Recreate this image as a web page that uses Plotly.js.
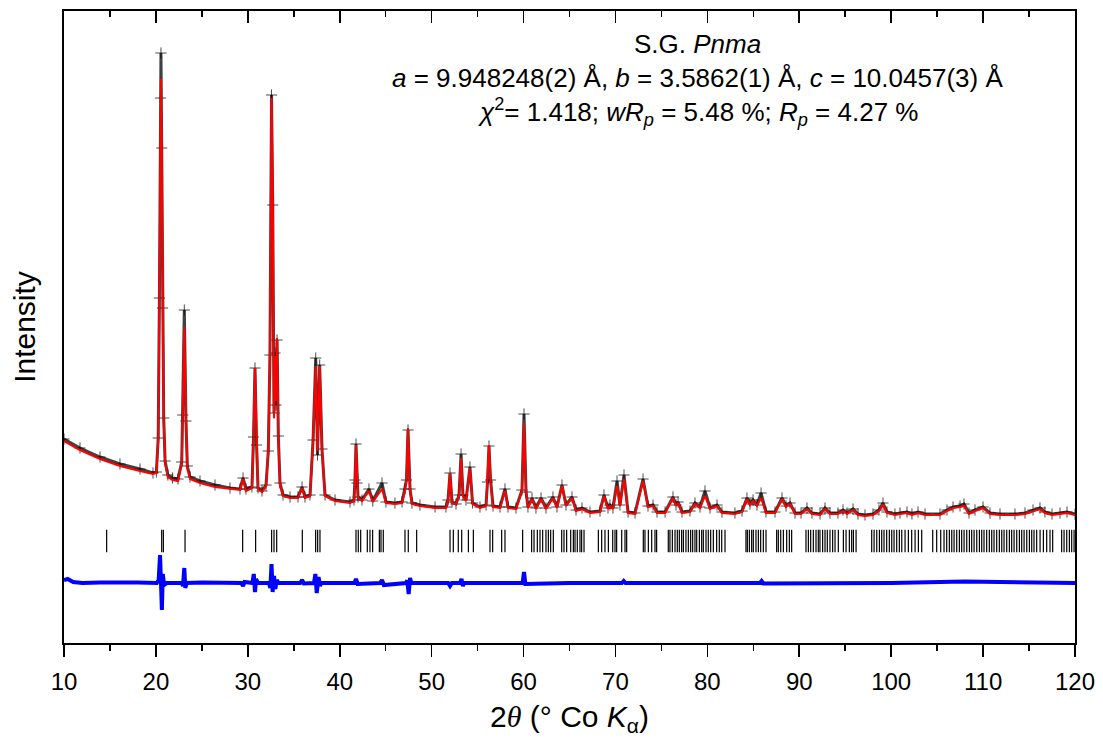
<!DOCTYPE html>
<html><head><meta charset="utf-8">
<script src="https://cdn.plot.ly/plotly-3.0.1.min.js"></script>
<style>html,body{margin:0;padding:0;background:#fff}#plot{width:1103px;height:748px}</style>
</head><body><div id="plot"></div><script>
// 2theta positions of the profile samples (deg, Co K-alpha)
const twoTheta = [10.00,11.74,13.92,16.09,18.27,19.68,20.05,20.25,20.38,20.50,20.55,20.63,20.72,20.85,21.00,21.30,21.80,22.40,22.81,22.92,23.09,23.27,23.42,23.71,24.80,26.43,28.06,29.15,29.48,29.80,30.45,30.62,30.78,30.95,31.11,31.54,31.98,32.23,32.41,32.58,32.71,32.85,32.96,33.07,33.18,33.32,33.50,33.83,34.59,35.46,35.90,36.22,36.77,37.10,37.39,37.58,37.82,38.07,38.40,39.49,41.12,41.55,41.66,41.77,41.88,41.99,42.42,43.18,43.60,44.60,45.03,46.01,46.78,47.10,47.26,47.43,47.65,47.86,48.73,50.37,51.56,51.78,52.00,52.22,52.65,52.98,53.20,53.41,53.74,54.17,54.45,55.26,55.92,56.08,56.24,56.41,56.68,57.44,57.98,58.31,59.18,59.83,60.05,60.27,60.48,60.92,61.35,61.90,62.44,63.20,63.64,64.18,64.62,65.27,65.71,66.36,67.23,68.32,68.75,69.19,69.40,69.73,70.17,70.49,70.93,71.37,72.13,73.00,73.54,74.09,74.52,75.40,76.26,76.59,76.81,77.24,78.11,78.65,79.20,79.74,80.29,81.05,81.59,83.00,83.77,84.31,84.64,84.97,85.40,85.84,86.38,87.36,88.12,88.56,88.99,89.54,90.19,90.84,91.38,92.26,92.80,93.34,94.21,94.76,95.19,95.85,96.39,97.15,98.02,98.67,99.11,99.54,100.41,100.96,101.72,102.26,102.92,103.68,105.31,106.07,106.73,107.49,107.92,108.47,109.12,109.99,110.75,111.84,113.47,114.56,115.43,116.19,116.73,117.50,118.37,119.13,120.00];
// calculated intensity (arb. units)
const yCalc = [4040,3860,3680,3540,3440,3380,3400,4040,6840,10840,11280,9840,6840,4440,3600,3320,3260,3240,3580,4500,6320,4500,3500,3280,3200,3120,3080,3060,3280,3040,3100,4040,5500,4040,3080,3020,3140,3840,5840,10900,8840,4500,5740,4840,6100,4100,3180,2940,2900,2900,3100,2900,2940,4040,5540,3840,5540,3840,2940,2840,2800,2840,3240,3960,3240,2900,2840,3040,2820,3080,2800,2780,2800,3040,3240,4300,3040,2780,2740,2700,2700,2840,3400,2800,2780,2940,3700,2940,2840,3500,2780,2700,2740,3240,3960,3240,2720,2700,3040,2700,2680,3040,4400,3040,2700,2880,2680,2880,2680,2900,2700,3140,2740,2900,2640,2680,2600,2620,2940,2680,2740,2680,3140,2740,3280,2600,2580,3240,2720,2740,2600,2600,2900,2740,2800,2600,2620,2780,2700,2940,2680,2740,2600,2580,2620,2880,2760,2840,2740,2900,2600,2600,2880,2720,2780,2580,2580,2680,2580,2560,2680,2580,2580,2640,2580,2660,2560,2540,2560,2640,2760,2600,2560,2580,2600,2560,2600,2560,2560,2640,2700,2720,2740,2580,2640,2700,2580,2560,2560,2580,2640,2680,2600,2560,2580,2600,2560];
// observed intensity (arb. units)
const yObs = [4080,3900,3720,3580,3480,3400,3420,4100,6900,10900,11800,9900,6700,4500,3640,3360,3300,3280,3620,4560,6660,4440,3540,3320,3240,3160,3100,3080,3300,3080,3120,4120,5500,3960,3100,3040,3160,3840,5760,10960,8760,4600,5800,4760,6060,4140,3200,2960,2920,2920,3120,2920,2960,4060,5700,3760,5560,3880,2960,2860,2820,2860,3260,3980,3200,2920,2860,3080,2840,3200,2820,2800,2820,3080,3260,4260,3080,2800,2760,2720,2720,2860,3400,2820,2780,2960,3780,2960,2860,3520,2800,2720,2760,3220,3940,3260,2740,2720,3080,2720,2700,3060,4580,3020,2720,2900,2700,2900,2700,2920,2720,3160,2760,2920,2660,2700,2620,2640,2960,2700,2760,2700,3240,2760,3360,2620,2600,3280,2740,2760,2620,2620,2920,2760,2820,2620,2640,2800,2720,3040,2700,2760,2620,2600,2640,2900,2780,2860,2760,3000,2620,2620,2900,2740,2800,2600,2600,2700,2600,2580,2700,2600,2600,2660,2600,2680,2580,2560,2580,2660,2800,2620,2580,2600,2620,2580,2620,2580,2580,2660,2720,2740,2780,2600,2660,2720,2600,2580,2580,2600,2660,2700,2620,2580,2600,2620,2580];
// difference curve (offset, arb. units)
const diffX = [10.0,10.4,11.0,12.0,14.0,16.0,18.0,20.1,20.3,20.45,20.55,20.65,20.75,20.9,21.2,22.8,22.95,23.09,23.2,23.35,25.0,27.0,29.3,29.48,29.65,30.5,30.65,30.78,30.9,31.1,32.3,32.45,32.58,32.7,32.85,33.0,33.15,33.35,35.7,35.9,36.1,37.2,37.35,37.5,37.7,37.85,38.0,41.6,41.77,41.95,44.4,44.6,44.8,47.2,47.35,47.5,47.65,47.8,51.8,52.0,52.2,53.1,53.25,53.4,53.55,59.9,60.05,60.2,65.0,70.7,70.9,71.1,80.0,85.7,85.9,86.1,100.0,108.0,120.0];
const diffY = [1260,1280,1220,1200,1210,1200,1210,1200,1260,1760,1000,660,1380,1160,1200,1200,1140,1500,1100,1200,1210,1200,1200,1140,1220,1200,1380,1020,1280,1200,1200,1100,1580,1020,1340,1080,1260,1200,1200,1260,1190,1200,1380,1000,1320,1140,1200,1200,1280,1180,1200,1260,1160,1200,1250,980,1300,1200,1200,1140,1200,1200,1280,1140,1200,1200,1420,1180,1200,1200,1240,1200,1200,1200,1240,1190,1200,1230,1200];
// Bragg reflection positions (deg)
const braggPos = [14.64,20.63,20.81,23.17,29.44,30.85,32.59,32.85,33.14,35.93,37.38,37.6,37.85,41.77,42.02,42.28,43.0,43.29,43.58,44.31,44.49,44.74,47.1,47.46,48.37,52.0,52.36,52.9,53.27,54.0,54.54,56.35,56.64,57.62,57.98,59.9,60.88,61.14,61.5,61.79,62.08,62.44,62.7,62.95,63.24,64.15,64.4,64.69,65.13,65.42,65.6,65.85,66.14,66.32,66.58,68.14,68.5,68.86,69.23,69.7,69.95,70.13,70.68,71.04,71.22,73.03,73.21,73.58,73.94,74.3,74.48,75.75,75.93,76.19,76.48,76.73,76.95,77.2,77.39,77.67,77.93,78.18,78.4,78.65,78.84,79.13,79.38,79.56,79.85,80.1,80.36,80.65,81.01,81.3,81.56,81.92,84.2,84.35,84.57,84.82,85.0,85.29,85.55,85.8,86.09,86.38,87.54,87.72,87.98,88.27,88.63,88.92,89.17,90.73,90.99,91.24,91.53,91.82,92.07,92.25,92.54,92.8,93.05,93.34,93.63,93.89,94.25,94.8,95.09,95.45,95.7,95.89,96.18,97.88,98.14,98.43,98.72,98.97,99.22,99.51,99.8,100.06,100.31,100.6,100.89,101.15,101.51,101.87,102.23,102.6,102.96,103.32,104.52,104.95,105.39,105.75,106.04,106.33,106.59,106.84,107.13,107.42,107.67,107.93,108.22,108.51,108.76,109.02,109.31,109.6,109.85,110.1,110.39,110.68,110.94,111.19,111.48,111.77,112.03,112.28,112.57,112.86,113.11,113.37,113.66,113.95,114.2,114.46,114.75,115.04,115.29,115.54,115.83,116.2,116.56,116.92,117.28,117.57,118.55,118.81,119.1,119.39,119.64,119.9];
const xTicks = [10,20,30,40,50,60,70,80,90,100,110,120];
const annotationLines = [
  'S.G. <i>Pnma</i>',
  '<i>a</i> = 9.948248(2) Å, <i>b</i> = 3.5862(1) Å, <i>c</i> = 10.0457(3) Å',
  '<i>χ</i><sup>2</sup>= 1.418; <i>wR<sub>p</sub></i> = 5.48 %; <i>R<sub>p</sub></i> = 4.27 %'
];

const BRAGG_LEVEL = 2040;
const FONT = 'Arial, "Liberation Sans", sans-serif';

const traces = [
  {x: twoTheta, y: yObs, type: 'scatter', mode: 'lines+markers', name: 'Observed',
   line: {color: 'rgba(0,0,0,0.75)', width: 3},
   marker: {symbol: 'cross-thin', size: 8, color: 'black', line: {color: 'rgba(0,0,0,0.7)', width: 1}}},
  {x: twoTheta, y: yCalc, type: 'scatter', mode: 'lines', name: 'Calculated',
   line: {color: 'rgb(255,0,0)', width: 2}},
  {x: diffX, y: diffY, type: 'scatter', mode: 'lines', name: 'Difference',
   line: {color: 'rgb(0,0,255)', width: 4}},
  {x: braggPos, y: braggPos.map(() => BRAGG_LEVEL), type: 'scatter', mode: 'markers', name: 'Bragg',
   xaxis: 'x2', yaxis: 'y',
   marker: {symbol: 'line-ns', size: 16, color: 'black', line: {color: 'black', width: 1.2}}}
];

const annY = [0.947, 0.894, 0.840];
const layout = {
  width: 1103, height: 748,
  margin: {l: 64, r: 28, t: 11, b: 105, pad: 0},
  paper_bgcolor: 'white', plot_bgcolor: 'white',
  showlegend: false,
  font: {family: FONT, color: 'black'},
  xaxis: {
    range: [10, 120], tickvals: xTicks, ticktext: xTicks.map(String),
    ticks: 'outside', ticklen: 12, tickwidth: 1.6, tickcolor: 'black',
    showline: true, linewidth: 2, linecolor: 'black', mirror: true,
    showgrid: false, zeroline: false,
    tickfont: {size: 24, family: FONT, color: 'black'},
    ticklabelstandoff: 4,
    minor: {ticks: 'outside', dtick: 5, tick0: 5, ticklen: 6, tickwidth: 1.6, tickcolor: 'black', showgrid: false},
    title: {text: '2<span style="font-family:Liberation Serif"><i>θ</i></span> (° Co <i>K</i><sub>α</sub>)',
            font: {size: 30, family: FONT, color: 'black'}, standoff: 12}
  },
  xaxis2: {
    overlaying: 'x', side: 'top', range: [10, 120], tickvals: xTicks,
    ticks: 'inside', ticklen: 12, tickwidth: 1.6, tickcolor: 'black',
    showticklabels: false, showgrid: false, zeroline: false, showline: false,
    minor: {ticks: 'inside', dtick: 5, tick0: 5, ticklen: 6, tickwidth: 1.6, tickcolor: 'black', showgrid: false}
  },
  yaxis: {
    range: [0, 12640], showticklabels: false, ticks: '', showgrid: false, zeroline: false,
    showline: true, linewidth: 2, linecolor: 'black', mirror: true,
    title: {text: 'Intensity', font: {size: 30, family: FONT, color: 'black'}, standoff: 18}
  },
  annotations: annotationLines.map((t, i) => ({
    text: t, xref: 'paper', yref: 'paper', x: 0.627, y: annY[i],
    xanchor: 'center', yanchor: 'middle', showarrow: false,
    font: {size: 26, family: FONT, color: 'black'}
  }))
};

Plotly.newPlot('plot', traces, layout, {staticPlot: true, displayModeBar: false});
</script></body></html>
